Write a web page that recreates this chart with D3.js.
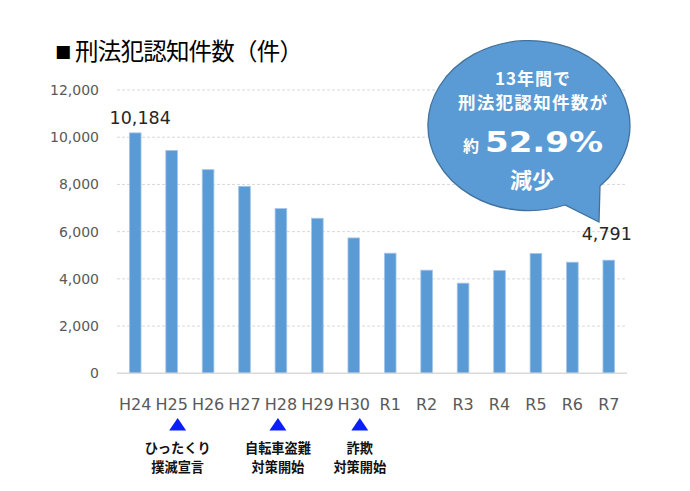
<!DOCTYPE html>
<html>
<head>
<meta charset="utf-8">
<script src="https://cdnjs.cloudflare.com/ajax/libs/d3/7.8.5/d3.min.js"></script>
<style>
  html, body { margin: 0; padding: 0; background: #fff; }
  svg { display: block; }
</style>
</head>
<body>
<svg id="chart" width="690" height="491"></svg>
<script>
const categories = ["H24","H25","H26","H27","H28","H29","H30","R1","R2","R3","R4","R5","R6","R7"];
const values = [10184, 9442, 8626, 7920, 6977, 6567, 5734, 5087, 4368, 3818, 4355, 5074, 4706, 4791];
const yTicks = [0, 2000, 4000, 6000, 8000, 10000, 12000];
const labeled = ["H24", "R7"];
const annotations = [
  { cat: "H25", lines: ["ひったくり", "撲滅宣言"] },
  { cat: "H28", lines: ["自転車盗難", "対策開始"] },
  { cat: "H30", lines: ["詐欺", "対策開始"] }
];
const titleText = "刑法犯認知件数（件）";
const bubbleLines = ["13年間で", "刑法犯認知件数が"];
const bubblePrefix = "約";
const bubbleBig = "52.9%";
const bubbleLast = "減少";

const svg = d3.select("#chart");
const jp = "'Noto Sans CJK JP', 'Noto Sans', sans-serif";
const num = "'DejaVu Sans', sans-serif";

const x = d3.scaleBand().domain(categories).range([117, 627]).paddingInner(0.68).paddingOuter(0.34);
const y = d3.scaleLinear().domain([0, 12000]).range([373.3, 90]);

// Title
svg.append("text").attr("x", 55).attr("y", 57).attr("fill", "#000")
  .attr("font-family", num).attr("font-size", 17).text("■");
svg.append("text").attr("x", 75).attr("y", 60).attr("fill", "#000")
  .attr("font-family", jp).attr("font-size", 23.5)
  .attr("textLength", 228).attr("lengthAdjust", "spacing").text(titleText);

// Gridlines
svg.append("g").selectAll("line").data(yTicks.filter(d => d > 0)).join("line")
  .attr("x1", 117).attr("x2", 627)
  .attr("y1", d => y(d)).attr("y2", d => y(d))
  .attr("stroke", "#d9d9d9").attr("stroke-width", 1).attr("stroke-dasharray", "3,2");

// Y axis
const yAxis = svg.append("g").attr("transform", "translate(117,0)")
  .call(d3.axisLeft(y).tickValues(yTicks).tickSize(0).tickPadding(18).tickFormat(d3.format(",")));
yAxis.select(".domain").remove();
yAxis.selectAll("text").attr("font-family", num).attr("font-size", 14).attr("fill", "#595959");

// Bars
svg.append("g").selectAll("rect").data(values).join("rect")
  .attr("x", (d, i) => x(categories[i]))
  .attr("y", d => y(d))
  .attr("width", x.bandwidth())
  .attr("height", d => y(0) - y(d))
  .attr("fill", "#5b9bd5")
  .attr("stroke", "#a4c6ea").attr("stroke-width", 0.8);

// Baseline
svg.append("line").attr("x1", 117).attr("x2", 627).attr("y1", y(0)).attr("y2", y(0))
  .attr("stroke", "#d9d9d9").attr("stroke-width", 1.5);

// X axis
const xAxis = svg.append("g").attr("transform", `translate(0,${y(0)})`)
  .call(d3.axisBottom(x).tickSize(0).tickPadding(25));
xAxis.select(".domain").remove();
xAxis.selectAll("text").attr("font-family", num).attr("font-size", 16).attr("fill", "#595959");

// Value labels
const fmt = d3.format(",");
svg.append("g").selectAll("text").data(labeled).join("text")
  .attr("x", d => x(d) + x.bandwidth() / 2 + (d === "H24" ? 5 : -2))
  .attr("y", d => y(values[categories.indexOf(d)]) - (d === "R7" ? 20 : 9))
  .attr("text-anchor", "middle")
  .attr("font-family", num).attr("font-size", 17.5).attr("fill", "#262626")
  .text(d => fmt(values[categories.indexOf(d)]));

// Annotations
const ann = svg.append("g").selectAll("g").data(annotations).join("g")
  .attr("transform", d => `translate(${x(d.cat) + x.bandwidth() / 2 + (d.cat === "H28" ? -3 : 6)},0)`);
ann.append("path").attr("d", "M0,418 L8.5,430.5 L-8.5,430.5 Z").attr("fill", "#0a1eff");
ann.each(function(d) {
  const g = d3.select(this);
  d.lines.forEach((l, i) => g.append("text").attr("text-anchor", "middle")
    .attr("font-family", jp).attr("font-weight", 700).attr("font-size", 13.2).attr("fill", "#111")
    .attr("x", 0).attr("y", 453 + i * 19).text(l));
});

// Callout bubble
const rx = 101, ry = 85;
svg.append("path")
  .attr("d", `M600,186 A${rx},${ry} 0 1 0 565,205 L599,222 Z`)
  .attr("fill", "#5b9bd5").attr("stroke", "#41719c").attr("stroke-width", 1.3);

const bx = 532;
svg.append("text").attr("x", 495).attr("y", 77).attr("dominant-baseline", "central")
  .attr("font-family", jp).attr("font-weight", 700).attr("font-size", 17)
  .attr("textLength", 75).attr("lengthAdjust", "spacing")
  .attr("fill", "#fff").text(bubbleLines[0]);
svg.append("text").attr("x", 458).attr("y", 101.5).attr("dominant-baseline", "central")
  .attr("font-family", jp).attr("font-weight", 700).attr("font-size", 17.5)
  .attr("textLength", 149).attr("lengthAdjust", "spacing")
  .attr("fill", "#fff").text(bubbleLines[1]);
svg.append("text").attr("x", 463).attr("y", 151.5)
  .attr("font-family", jp).attr("font-weight", 700).attr("font-size", 16).attr("fill", "#fff").text(bubblePrefix);
svg.append("text").attr("x", 485).attr("y", 151.5)
  .attr("font-family", num).attr("font-weight", 700).attr("font-size", 28)
  .attr("textLength", 118).attr("lengthAdjust", "spacingAndGlyphs").attr("fill", "#fff").text(bubbleBig);
svg.append("text").attr("x", bx).attr("y", 177.5).attr("dominant-baseline", "central")
  .attr("text-anchor", "middle").attr("font-family", jp).attr("font-weight", 700).attr("font-size", 22)
  .attr("fill", "#fff").text(bubbleLast);
</script>
</body>
</html>
